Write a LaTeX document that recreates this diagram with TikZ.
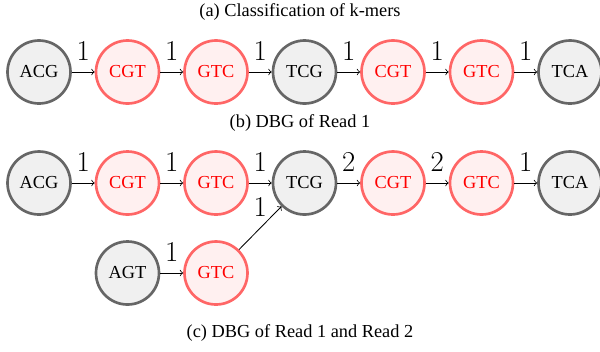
\documentclass[tikz,border=0pt]{standalone}
\usepackage{fontspec}
\setmainfont{Liberation Serif}
\begin{document}
\begin{tikzpicture}[x=0.6pt,y=-0.6pt,
  font=\fontsize{11}{13}\selectfont,
  kmer/.style={circle,minimum size=37.8pt,inner sep=0pt,line width=1.6pt},
  plain/.style={kmer,draw=black!60,fill=black!6,text=black},
  hot/.style={kmer,draw=red!60,fill=red!6,text=red},
  link/.style={->,line width=0.5pt},
  wt/.style={font=\LARGE,inner sep=1pt,above=5.5pt}
]
\useasboundingbox (0,0) rectangle (600,351);

% captions
\node (capA) at (300,12) {(a) Classification of k-mers};
\node (capB) at (300,123) {(b) DBG of Read 1};
\node (capC) at (300,333) {(c) DBG of Read 1 and Read 2};

% (a) classified k-mers
\node[plain] (a1) at (39,72) {ACG};
\node[hot]   (a2) at (127.5,72) {CGT};
\node[hot]   (a3) at (216,72) {GTC};
\node[plain] (a4) at (304.5,72) {TCG};
\node[hot]   (a5) at (393,72) {CGT};
\node[hot]   (a6) at (481.5,72) {GTC};
\node[plain] (a7) at (570,72) {TCA};
\draw[link] (a1) -- node[wt]{$1$} (a2);
\draw[link] (a2) -- node[wt]{$1$} (a3);
\draw[link] (a3) -- node[wt]{$1$} (a4);
\draw[link] (a4) -- node[wt]{$1$} (a5);
\draw[link] (a5) -- node[wt]{$1$} (a6);
\draw[link] (a6) -- node[wt]{$1$} (a7);

% (c) graph of both reads
\node[plain] (c1) at (39,183) {ACG};
\node[hot]   (c2) at (127.5,183) {CGT};
\node[hot]   (c3) at (216,183) {GTC};
\node[plain] (c4) at (304.5,183) {TCG};
\node[hot]   (c5) at (393,183) {CGT};
\node[hot]   (c6) at (481.5,183) {GTC};
\node[plain] (c7) at (570,183) {TCA};
\node[plain] (d1) at (127.5,273) {AGT};
\node[hot]   (d2) at (216,273) {GTC};
\draw[link] (c1) -- node[wt]{$1$} (c2);
\draw[link] (c2) -- node[wt]{$1$} (c3);
\draw[link] (c3) -- node[wt]{$1$} (c4);
\draw[link] (c4) -- node[wt]{$2$} (c5);
\draw[link] (c5) -- node[wt]{$2$} (c6);
\draw[link] (c6) -- node[wt]{$1$} (c7);
\draw[link] (d1) -- node[wt]{$1$} (d2);
\draw[link] (d2) -- node[wt]{$1$} (c4);
\end{tikzpicture}
\end{document}
